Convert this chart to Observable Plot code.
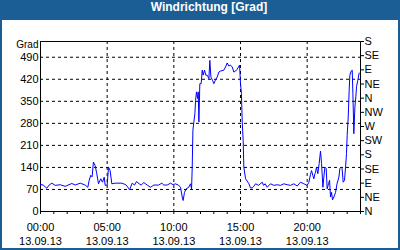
<!DOCTYPE html>
<html>
<head>
<meta charset="utf-8">
<script src="https://cdn.jsdelivr.net/npm/d3@7"></script>
<script src="https://cdn.jsdelivr.net/npm/@observablehq/plot@0.6"></script>
<style>
  html, body { margin: 0; padding: 0; background: #fff; }
  #frame { width: 400px; height: 250px; box-sizing: border-box; background: #1b5e95; padding: 0 2px 2px 2px; }
  #title { height: 20px; line-height: 20px; color: #fff; font: bold 12px "Liberation Sans", sans-serif; text-align: center; padding-left: 18px; box-sizing: border-box; }
  #chart { width: 396px; height: 228px; background: #fbfdfb; }
  #chart svg { display: block; }
</style>
</head>
<body>
<div id="frame">
  <div id="title">Windrichtung [Grad]</div>
  <div id="chart"></div>
</div>
<script>
const hours = [0.0,0.2,0.47,0.65,0.85,1.1,1.48,1.85,2.35,2.6,2.98,3.35,3.55,3.65,3.77,3.87,3.97,4.1,4.22,4.35,4.52,4.65,4.78,4.85,5.0,5.1,5.22,5.35,5.6,6.1,6.4,6.55,6.68,6.88,7.05,7.2,7.4,7.55,7.75,8.0,8.25,8.5,8.85,9.1,9.25,9.5,9.75,9.95,10.1,10.35,10.5,10.63,10.7,10.8,10.93,11.12,11.25,11.33,11.38,11.43,11.5,11.58,11.63,11.7,11.78,11.83,11.88,11.95,12.05,12.13,12.2,12.3,12.4,12.5,12.63,12.7,12.78,12.9,13.0,13.12,13.25,13.38,13.5,13.75,13.88,14.0,14.13,14.25,14.38,14.5,14.63,14.75,14.93,15.0,15.07,15.13,15.2,15.25,15.38,15.63,15.75,15.88,16.0,16.13,16.35,16.63,16.73,16.85,17.0,17.25,17.5,17.75,18.0,18.25,18.5,18.75,19.0,19.25,19.5,19.75,20.0,20.13,20.25,20.33,20.42,20.5,20.58,20.63,20.7,20.75,20.8,20.9,21.0,21.08,21.18,21.25,21.33,21.43,21.5,21.6,21.68,21.75,21.83,21.9,22.0,22.13,22.25,22.38,22.45,22.55,22.62,22.7,22.8,22.88,22.95,23.0,23.08,23.15,23.2,23.3,23.38,23.43,23.5,23.58,23.65,23.7,23.8,23.9];
const degrees = [86,84,74,84,90,83,85,80,89,84,90,84,77,99,115,110,157,146,120,88,104,93,109,83,84,141,130,88,90,90,85,77,69,90,84,95,88,84,92,84,77,84,84,90,84,84,90,85,88,84,77,46,35,61,72,77,88,72,141,258,284,311,353,380,359,380,284,406,406,449,433,449,433,433,422,480,427,417,406,417,427,443,446,449,459,472,462,465,459,443,446,452,465,406,375,284,226,141,104,88,75,75,80,88,83,93,83,88,77,88,83,85,83,88,85,83,88,81,93,88,83,93,118,130,115,104,120,125,141,130,120,152,192,152,77,109,141,136,72,88,99,46,61,37,46,61,90,109,136,141,136,93,99,141,184,242,300,385,433,446,449,374,247,332,364,396,417,440];
const leftTicks = [0,70,140,210,280,350,420,490];
const rightTicks = [0,45,90,135,180,225,270,315,360,405,450,495,540];
const rightLabels = ["N","NE","E","SE","S","SW","W","NW","N","NE","E","SE","S"];
const timeTicks = [0,5,10,15,20];
const timeLabels = ["00:00","05:00","10:00","15:00","20:00"];
const dateLabel = "13.09.13";
const yLabel = "Grad";

const data = hours.map((h, i) => ({h, v: degrees[i]}));

const chart = Plot.plot({
  width: 396,
  height: 228,
  marginLeft: 38,
  marginRight: 38,
  marginTop: 21,
  marginBottom: 37,
  style: {fontFamily: "Liberation Sans, sans-serif", fontSize: "11px", color: "black", background: "white", overflow: "visible"},
  x: {domain: [0, 24]},
  y: {domain: [0, 540]},
  marks: [
    Plot.gridY(leftTicks.slice(1), {stroke: "black", strokeOpacity: 1, strokeDasharray: "3,3"}),
    Plot.gridX(timeTicks.slice(1), {stroke: "black", strokeOpacity: 1, strokeDasharray: "3,3"}),
    Plot.frame({stroke: "black"}),
    Plot.axisY({anchor: "left", ticks: leftTicks, tickSize: 0, tickPadding: 2, label: null, fill: "black"}),
    Plot.axisY({anchor: "right", ticks: rightTicks, tickSize: 3, tickPadding: 1, tickFormat: (d) => rightLabels[rightTicks.indexOf(d)], label: null, fill: "black", stroke: "black"}),
    Plot.axisX({ticks: d3.range(0, 25), tickSize: 3, tickFormat: () => "", label: null, stroke: "black"}),
    Plot.axisX({ticks: timeTicks, tickSize: 0, tickPadding: 9, tickFormat: (d) => timeLabels[timeTicks.indexOf(d)] + "\n" + dateLabel, lineHeight: 1.3, label: null, fill: "black"}),
    Plot.text([yLabel], {frameAnchor: "top-left", dx: -2, dy: -1, textAnchor: "end", fill: "black", fontSize: 10}),
    Plot.line(data, {x: "h", y: "v", stroke: "#0000ff", strokeWidth: 1})
  ]
});
document.getElementById("chart").appendChild(chart);
</script>
</body>
</html>
